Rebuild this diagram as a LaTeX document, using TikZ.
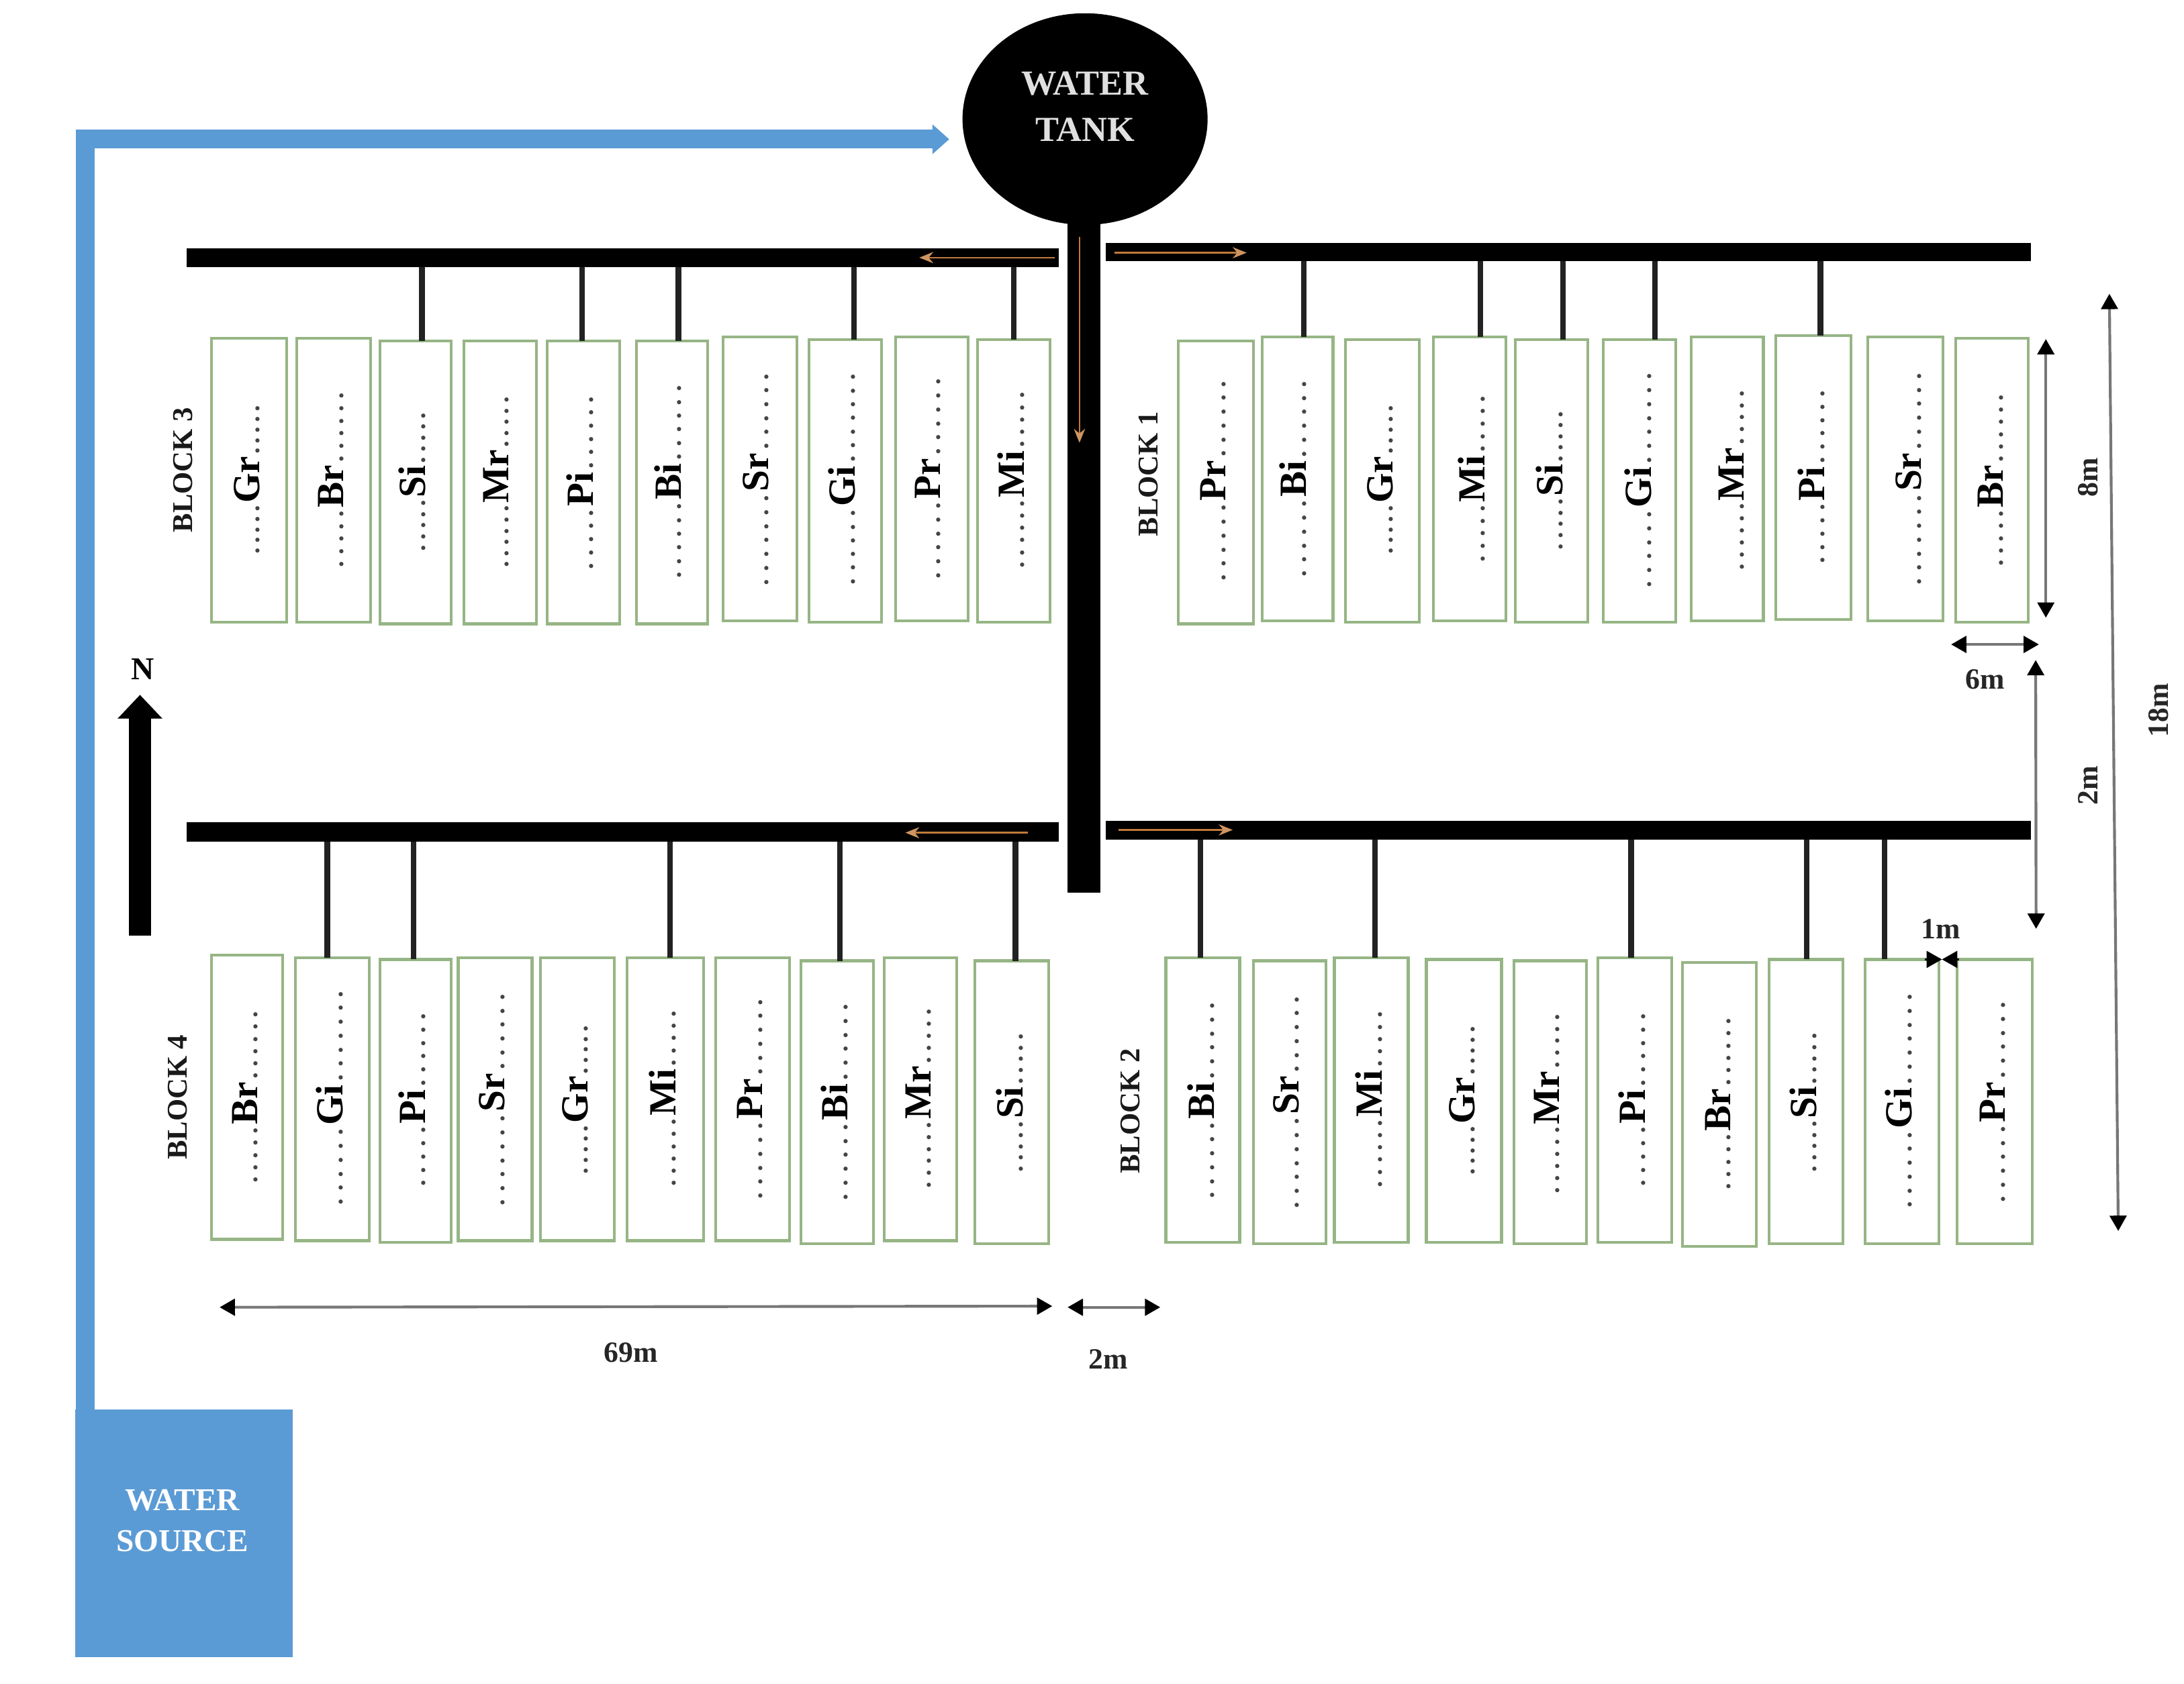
\documentclass[tikz,border=0pt]{standalone}
\usepackage{fontspec}
\setmainfont{Liberation Serif}
\usetikzlibrary{arrows.meta,shapes.geometric}
\definecolor{plotgreen}{HTML}{96B585}
\definecolor{pipeblack}{HTML}{000000}
\definecolor{riserdark}{HTML}{222222}
\definecolor{flowblue}{HTML}{5B9BD5}
\definecolor{floworange}{HTML}{C07A3A}
\definecolor{dimgray}{HTML}{777777}
\definecolor{dotgray}{HTML}{444444}
\newcommand{\szfont}[2]{\fontsize{#1}{#2}\selectfont\bfseries}
\newcommand{\dotrun}[2]{\foreach \k in {1,...,#1}{\hbox to #2{\hss.\hss}}}
\newcommand{\rectnode}[6][pipe]{\node[#1,minimum width={(#5-#3)*0.02cm},minimum height={(#6-#4)*0.02cm}] (#2) at ({(#3+#5)/2},{(#4+#6)/2}) {};}
\tikzset{
  plotbox/.style={draw=plotgreen,fill=white,line width=0.04cm,inner sep=0pt,outer sep=0pt},
  plotlabel/.style={rotate=90,anchor=base,inner sep=0pt,outer sep=0pt,text=black},
  pipe/.style={fill=pipeblack,inner sep=0pt,outer sep=0pt},
  riser/.style={draw=riserdark,line width=0.08cm},
  flow/.style={draw=floworange,line width=0.025cm,-{Stealth[length=0.2cm,width=0.16cm,color=floworange!80!white]}},
  dimline/.style={draw=dimgray,line width=0.04cm,{Triangle[length=0.22cm,width=0.24cm,color=black]}-{Triangle[length=0.22cm,width=0.24cm,color=black]}},
  dimone/.style={draw=black,line width=0.03cm,-{Triangle[length=0.22cm,width=0.24cm,color=black]}},
  dimtext/.style={font=\szfont{12}{14},inner sep=0pt,outer sep=0pt,anchor=base,text=black!85},
  dimtextv/.style={dimtext,rotate=90},
  blocktext/.style={font=\szfont{11.7}{14},inner sep=0pt,outer sep=0pt,anchor=base,rotate=90,text=black!90}
}
\begin{document}
\begin{tikzpicture}[x=0.02cm,y=-0.02cm]
\path[use as bounding box,fill=white] (0,0) rectangle (1568,1208.9);
% plots: id/x1/y1/x2/y2/label/dots before/dots after/baseline x/centre y/dot pitch
\foreach \id/\xa/\ya/\xb/\yb/\lab/\na/\nb/\bx/\cy/\pt in {
 b3Gr/152/243/206/447/Gr/5/5/184.7/344.6/7.6,
 b3Br/213/243/266/447/Br/5/6/245/344.7/9,
 b3Si/273/245/324/448/Si/5/5/304/346/8,
 b3Mr/333/245/385/448/Mr/6/5/363.8/346.3/8,
 b3Pi/393/245/445/448/Pi/5/6/424.5/346.7/9.5,
 b3Bi/457/245/508/448/Bi/6/6/487.6/346/9.8,
 b3Sr/519/242/572/446/Sr/7/6/550.4/344.3/10,
 b3Gi/581/244/633/447/Gi/6/7/612.3/344.3/9.8,
 b3Pr/643/242/695/446/Pr/6/6/673.7/343.8/10,
 b3Mi/702/244/754/447/Mi/6/5/734/344.8/8.8,
 b1Pr/846/245/900/448/Pr/6/6/878.5/345.4/10,
 b1Bi/906/242/957/446/Bi/6/6/936.3/344/10,
 b1Gr/966/244/1019/447/Gr/5/5/998.5/344.6/7.6,
 b1Mi/1029/242/1081/446/Mi/5/5/1064.5/343.9/9,
 b1Si/1088/244/1140/447/Si/5/5/1120.5/345/8,
 b1Gi/1151/244/1203/447/Gi/6/7/1183.8/345/10,
 b1Mr/1214/242/1266/446/Mr/6/5/1250.4/344.8/8.6,
 b1Pi/1275/241/1329/445/Pi/5/6/1308.5/342.7/9.5,
 b1Sr/1341/242/1395/446/Sr/7/6/1378/344/10,
 b1Br/1404/243/1456/447/Br/5/6/1436.4/345/8.8,
 b4Br/152/686/203/890/Br/5/6/183.5/788/8.8,
 b4Gi/212/688/265/891/Gi/6/7/244.5/788.6/10,
 b4Pi/273/689/324/892/Pi/5/6/304/790/9.5,
 b4Sr/329/688/382/891/Sr/7/6/360.6/789.8/10,
 b4Gr/388/688/441/891/Gr/5/5/420.4/789.7/7.6,
 b4Mi/450/688/505/891/Mi/6/5/483.6/789/8.8,
 b4Pr/514/688/567/891/Pr/6/6/546/789.3/10,
 b4Bi/575/690/627/893/Bi/6/6/607/791.5/10,
 b4Mr/635/688/687/891/Mr/6/5/667/789/8.6,
 b4Si/700/690/753/893/Si/5/5/733/792/8,
 b2Bi/837/688/890/892/Bi/6/6/870/790.5/10,
 b2Sr/900/690/952/893/Sr/7/6/931/791.7/10,
 b2Mi/958/688/1011/892/Mi/6/5/990.7/789.7/8.8,
 b2Gr/1024/689/1078/892/Gr/5/5/1057/790.4/7.6,
 b2Mr/1087/690/1139/893/Mr/6/5/1118/792.6/8.6,
 b2Pi/1147/688/1200/892/Pi/5/6/1179.7/790/9.5,
 b2Br/1208/691/1261/895/Br/5/6/1241/792.8/8.8,
 b2Si/1270/689/1323/893/Si/5/5/1302.7/791.8/8,
 b2Gi/1339/689/1392/893/Gi/6/7/1371/790.7/10,
 b2Pr/1405/689/1459/893/Pr/6/6/1438/791.5/10}{
  \pgfmathsetlengthmacro\pitchlen{\pt*0.02cm}
  \rectnode[plotbox]{\id}{\xa}{\ya}{\xb}{\yb}
  \node[plotlabel] (\id text) at ({\bx+1.5},\cy) {\szfont{10.5}{14}\color{dotgray}\dotrun{\na}{\pitchlen}\szfont{15.7}{18}\color{black}\lab\szfont{10.5}{14}\color{dotgray}\dotrun{\nb}{\pitchlen}};
}
% mains
\rectnode{m3}{134}{178.5}{760}{192}
\rectnode{m1}{794}{174.4}{1458}{187.7}
\rectnode{m4}{134}{590.5}{760}{604.5}
\rectnode{m2}{794}{589.4}{1458}{603}
\rectnode{trunk}{766.5}{155}{790}{641}
% tank and source
\node[ellipse,fill=black,inner sep=0pt,outer sep=0pt,minimum width=3.52cm,minimum height=3.04cm] (tank) at (779,85.5) {};
\node[font=\szfont{14.4}{18.8},text=white!88!black,align=center,inner sep=0pt] (tanklabel) at (779,76.5) {WATER\\TANK};
\rectnode[fill=flowblue,inner sep=0pt,outer sep=0pt]{source}{54}{1012}{210}{1190}
\node[font=\szfont{13}{16.5},text=white,align=center,inner sep=0pt] (sourcelabel) at (131,1092) {WATER\\SOURCE};
% risers
\foreach \m/\rx/\b in {m3/303/b3Si,m3/418/b3Pi,m3/487/b3Bi,m3/613/b3Gi,m3/728/b3Mi,
  m1/936/b1Bi,m1/1063/b1Mi,m1/1122/b1Si,m1/1188/b1Gi,m1/1307/b1Pi,
  m4/235/b4Gi,m4/297/b4Pi,m4/481/b4Mi,m4/603/b4Bi,m4/729/b4Si,
  m2/862/b2Bi,m2/987/b2Mi,m2/1171/b2Pi,m2/1297/b2Si,m2/1353/b2Gi}{
  \draw[riser] (\rx,0 |- \m.south) -- (\rx,0 |- \b.north);
}
% blue supply
\coordinate (blueTip) at (681.5,100);
\draw[draw=flowblue,line width=0.27cm,line join=miter,-{Triangle[length=0.24cm,width=0.41cm,color=flowblue]}] (61,0 |- source.north) |- (blueTip);
% flow arrows
\coordinate (fa3) at (757,185);   \coordinate (fb3) at (660,185);
\coordinate (fa1) at (800,181.5); \coordinate (fb1) at (895,181.5);
\coordinate (fa4) at (738,598);   \coordinate (fb4) at (650,598);
\coordinate (fa2) at (803,596);   \coordinate (fb2) at (885,596);
\coordinate (fat) at (775,170);   \coordinate (fbt) at (775,318);
\foreach \p/\q in {fa3/fb3,fa1/fb1,fa4/fb4,fa2/fb2,fat/fbt}{\draw[flow] (\p) -- (\q);}
% north
\coordinate (nFoot) at (100.5,672); \coordinate (nTip) at (100.5,499);
\draw[draw=black,line width=0.32cm,-{Triangle[length=0.34cm,width=0.62cm,color=black]}] (nFoot) -- (nTip);
\node[font=\szfont{13}{15},inner sep=0pt,anchor=base] (north) at (102.5,488) {N};
% block names
\node[blocktext] (blk3) at (138,337.5) {BLOCK 3};
\node[blocktext] (blk1) at (831,340.5) {BLOCK 1};
\node[blocktext] (blk4) at (134,788) {BLOCK 4};
\node[blocktext] (blk2) at (818,798) {BLOCK 2};
% dimensions
\coordinate (d8a) at (1468.8,243.5);  \coordinate (d8b) at (1468.8,443.6);
\coordinate (d18a) at (1514.4,211);   \coordinate (d18b) at (1520.8,884);
\coordinate (d2a) at (1461.5,474);    \coordinate (d2b) at (1461.8,667);
\coordinate (d6a) at (1400.8,462.8);  \coordinate (d6b) at (1463.8,462.8);
\coordinate (d69a) at (157.7,938.8);  \coordinate (d69b) at (755.5,938);
\coordinate (d2ha) at (766.5,938.8);  \coordinate (d2hb) at (833,938.8);
\foreach \p/\q in {d8a/d8b,d18a/d18b,d2a/d2b,d6a/d6b,d69a/d69b,d2ha/d2hb}{\draw[dimline] (\p) -- (\q);}
\coordinate (d1l) at (1382,689); \coordinate (d1c) at (1394.2,689); \coordinate (d1r) at (1406.5,689);
\draw[dimone] (d1l) -- (d1c);
\draw[dimone] (d1r) -- (d1c);
\node[dimtextv] (t8) at (1506,342.7) {8m};
\node[dimtextv] (t18) at (1556.5,510) {18m};
\node[dimtextv] (t2v) at (1506,564) {2m};
\node[dimtext] (t6) at (1425,495) {6m};
\node[dimtext] (t1) at (1393.5,674) {1m};
\node[dimtext] (t69) at (453,978) {69m};
\node[dimtext] (t2h) at (795.5,983) {2m};
\end{tikzpicture}
\end{document}
